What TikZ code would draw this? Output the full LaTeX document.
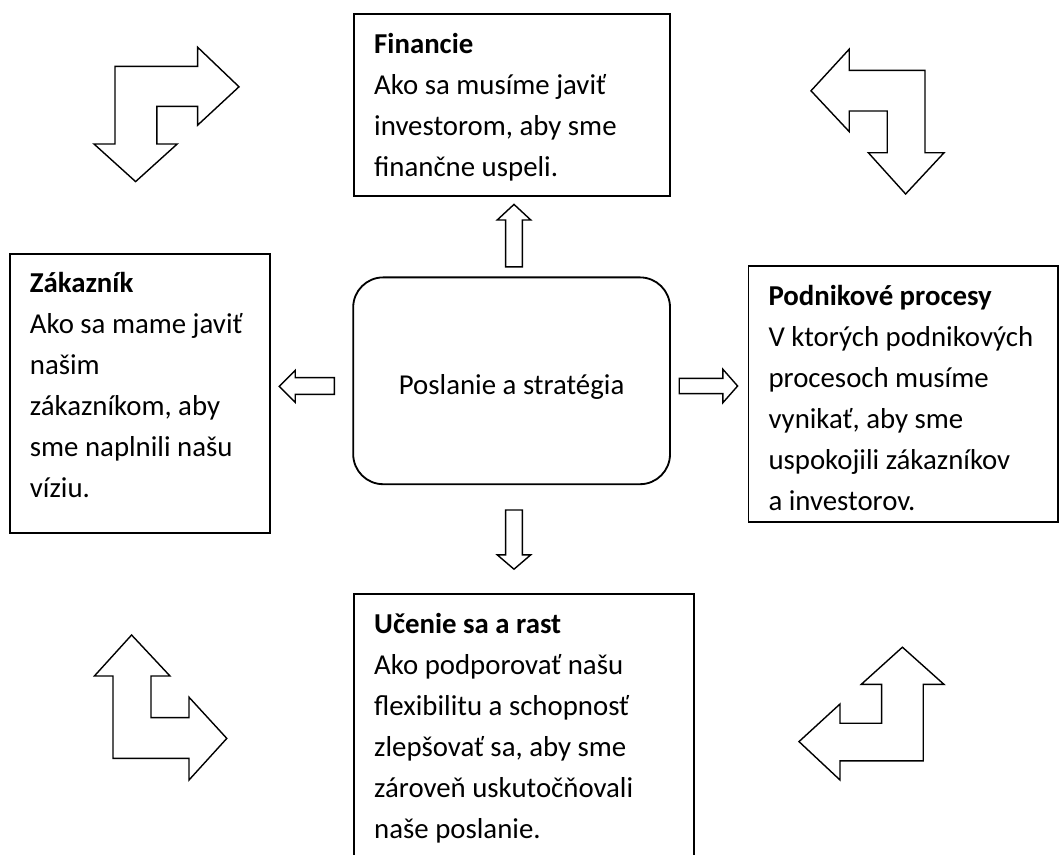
\documentclass[tikz,border=0pt]{standalone}
\usepackage{fontspec}
\setmainfont{Carlito}

\tikzset{
  panel/.style={draw=black, line width=1.3pt, anchor=north west, inner sep=0pt,
    align=flush left, text height=0.97cm, font=\fontsize{20.5}{29.2}\selectfont,
    execute at begin node={\leftskip=0.5cm\relax}},
  blockarrow/.style={draw=black, line width=1pt, line join=miter},
}

\begin{document}
\begin{tikzpicture}[]
      \useasboundingbox (0,0) rectangle (26.475,21.35);
      \clip (0,0) rectangle (26.475,21.35);

      % the five boxes
      \node[panel, text width=7.9cm, text depth=3.57cm](fin) at (8.833,21.017)
        {\textbf{Financie}\\Ako sa musíme javiť\\investorom, aby sme\\finančne uspeli.};
      \node[panel, text width=6.5cm, text depth=6.005cm](cust) at (0.225,15.033)
        {\textbf{Zákazník}\\Ako sa mame javiť\\našim\\zákazníkom, aby\\sme naplnili našu\\víziu.};
      \node[panel, text width=7.74cm, text depth=5.43cm](proc) at (18.69,14.717)
        {\textbf{Podnikové procesy}\\V ktorých podnikových\\procesoch musíme\\vynikať, aby sme\\uspokojili zákazníkov\\a investorov.};
      \node[panel, text width=8.485cm, text depth=6.53cm](learn) at (8.833,6.517)
        {\textbf{Učenie sa a rast}\\Ako podporovať našu\\flexibilitu a schopnosť\\zlepšovať sa, aby sme\\zároveň uskutočňovali\\naše poslanie.};
      \node[draw=black, line width=1.3pt, rounded corners=0.75cm, minimum width=7.92cm,
        minimum height=5.17cm, text height=0.68cm, text depth=0cm,
        font=\fontsize{20.5}{29.2}\selectfont](mission) at (12.79,11.83) {Poslanie a stratégia};

      % straight arrows out of the middle box
      \draw[blockarrow] (12.64,14.68) -- (12.64,15.85) -- (12.43,15.85) -- (12.85,16.24)
        -- (13.27,15.85) -- (13.06,15.85) -- (13.06,14.68) -- cycle;
      \draw[blockarrow] (12.64,8.6) -- (12.64,7.48) -- (12.43,7.48) -- (12.85,7.12)
        -- (13.27,7.48) -- (13.06,7.48) -- (13.06,8.6) -- cycle;
      \draw[blockarrow] (8.36,11.49) -- (7.38,11.49) -- (7.38,11.29) -- (6.98,11.69)
        -- (7.38,12.09) -- (7.38,11.91) -- (8.36,11.91) -- cycle;
      \draw[blockarrow] (16.98,11.51) -- (18.07,11.51) -- (18.07,11.28) -- (18.44,11.70)
        -- (18.07,12.12) -- (18.07,11.89) -- (16.98,11.89) -- cycle;

      % bent arrows in the corners
      \draw[blockarrow] (2.875,19.69) -- (4.94,19.69) -- (4.94,20.17) -- (5.975,19.18)
        -- (4.94,18.22) -- (4.94,18.69) -- (3.92,18.69) -- (3.92,17.75) -- (4.43,17.75)
        -- (3.39,16.81) -- (2.35,17.75) -- (2.875,17.75) -- cycle;
      \draw[blockarrow] (23.125,19.59) -- (21.23,19.59) -- (21.23,20.12) -- (20.275,19.08)
        -- (21.23,18.06) -- (21.23,18.575) -- (22.18,18.575) -- (22.18,17.53) -- (21.71,17.53)
        -- (22.64,16.5) -- (23.6,17.53) -- (23.125,17.53) -- cycle;
      \draw[blockarrow] (3.29,5.475) -- (4.25,4.45) -- (3.775,4.45) -- (3.775,3.41)
        -- (4.725,3.41) -- (4.725,3.92) -- (5.67,2.89) -- (4.725,1.85) -- (4.725,2.39)
        -- (2.825,2.39) -- (2.825,4.45) -- (2.36,4.45) -- cycle;
      \draw[blockarrow] (22.56,5.17) -- (23.6,4.24) -- (23.08,4.24) -- (23.08,2.33)
        -- (21.0,2.33) -- (21.0,1.85) -- (19.975,2.81) -- (21.0,3.75) -- (21.0,3.27)
        -- (22.04,3.27) -- (22.04,4.24) -- (21.53,4.24) -- cycle;
    \end{tikzpicture}
\end{document}
